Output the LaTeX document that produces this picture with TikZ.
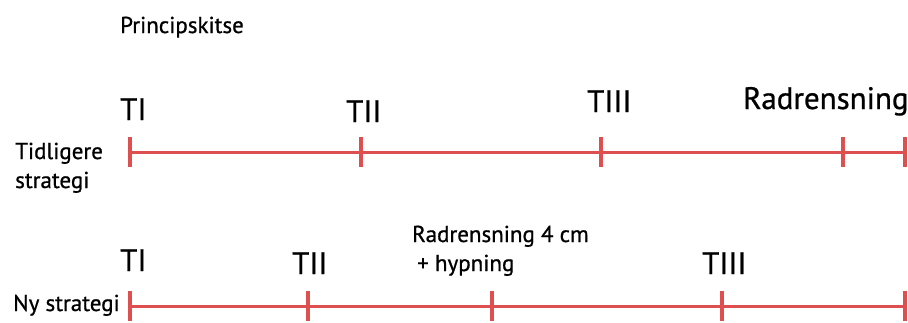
\documentclass[tikz,border=0pt]{standalone}
\usepackage{fontspec}
\setmainfont{PT Sans}[FakeBold=0.8]
\definecolor{tidsrod}{RGB}{222,80,80}
\tikzset{
  lbl/.style={inner sep=0pt, anchor=base west, font=\fontsize{23}{28}\selectfont},
  big/.style={inner sep=0pt, anchor=base west, font=\fontsize{31}{37}\selectfont},
  tidslinje/.style={draw=tidsrod, line width=3pt},
  tick/.style={draw=tidsrod, line width=4.5pt}
}

\begin{document}
\begin{tikzpicture}[x=1pt,y=-1pt]
\useasboundingbox (0,0) rectangle (908,322);

\node[lbl] (titel) at (120,33) {Principskitse};

% Tidligere strategi
\coordinate (a0) at (130,152);
\coordinate (a1) at (361,152);
\coordinate (a2) at (601,152);
\coordinate (a3) at (843,152);
\coordinate (a4) at (905,152);
\draw[tidslinje] (a0) -- (a4);
\draw[tick] ([yshift=15pt]a0) -- ([yshift=-15pt]a0);
\draw[tick] ([yshift=15pt]a1) -- ([yshift=-15pt]a1);
\draw[tick] ([yshift=15pt]a2) -- ([yshift=-15pt]a2);
\draw[tick] ([yshift=15pt]a3) -- ([yshift=-15pt]a3);
\draw[tick] ([yshift=15pt]a4) -- ([yshift=-15pt]a4);

\node[lbl] (tidl) at (15,159) {Tidligere};
\node[lbl] (strat) at (15,188) {strategi};
\node[big] (ti) at (120,120) {TI};
\node[big] (tii) at (346,122) {TII};
\node[big] (tiii) at (587,112) {TIII};
\node[big] (rad) at (743,109) {Radrensning};

% Ny strategi
\coordinate (b0) at (130,306);
\coordinate (b1) at (308,306);
\coordinate (b2) at (492,306);
\coordinate (b3) at (722,306);
\coordinate (b4) at (905,306);
\draw[tidslinje] (b0) -- (b4);
\draw[tick] ([yshift=15pt]b0) -- ([yshift=-15pt]b0);
\draw[tick] ([yshift=15pt]b1) -- ([yshift=-15pt]b1);
\draw[tick] ([yshift=15pt]b2) -- ([yshift=-15pt]b2);
\draw[tick] ([yshift=15pt]b3) -- ([yshift=-15pt]b3);
\draw[tick] ([yshift=15pt]b4) -- ([yshift=-15pt]b4);

\node[lbl] (ny) at (13,311) {Ny strategi};
\node[big] (nti) at (120,271) {TI};
\node[big] (ntii) at (292,274) {TII};
\node[big] (ntiii) at (702,274) {TIII};
\node[lbl] (rad4) at (412,242) {Radrensning 4 cm};
\node[lbl] (hyp) at (417,271) {+ hypning};
\end{tikzpicture}
\end{document}
